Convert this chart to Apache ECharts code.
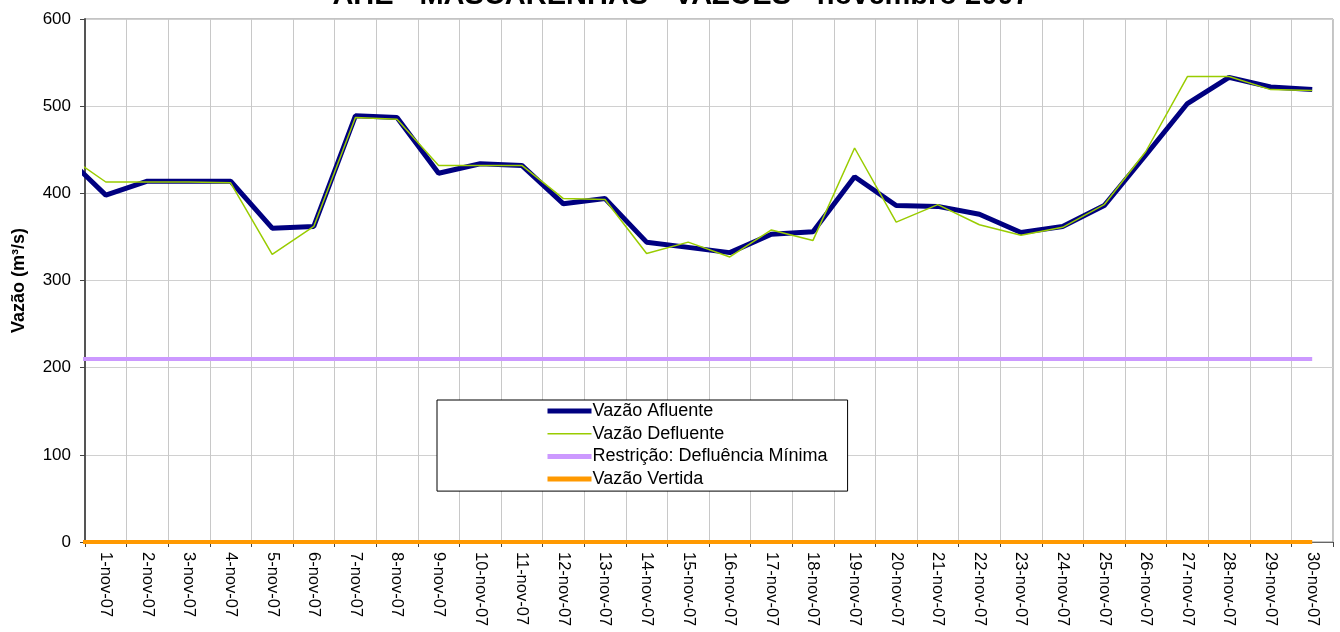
<!DOCTYPE html>
<html>
<head>
<meta charset="utf-8">
<title>AHE - MASCARENHAS - VAZÕES</title>
<script src="https://cdn.jsdelivr.net/npm/echarts@6/dist/echarts.min.js"></script>
<style>
  html, body { margin: 0; padding: 0; background: #fff; }
  #chart { width: 1340px; height: 632px; }
</style>
</head>
<body>
<div id="chart"></div>
<script>
// first entry (31-out) sits left of the axis and is only seen as the clipped start segment
var dias = ["31-out-07",
  "1-nov-07","2-nov-07","3-nov-07","4-nov-07","5-nov-07","6-nov-07","7-nov-07","8-nov-07","9-nov-07","10-nov-07",
  "11-nov-07","12-nov-07","13-nov-07","14-nov-07","15-nov-07","16-nov-07","17-nov-07","18-nov-07","19-nov-07","20-nov-07",
  "21-nov-07","22-nov-07","23-nov-07","24-nov-07","25-nov-07","26-nov-07","27-nov-07","28-nov-07","29-nov-07","30-nov-07"];

var vazaoAfluente = [444,
  398,414,414,414,360,362,489,487,423,434,
  432,388,394,344,338,332,353,356,419,386,
  385,376,355,362,386,444,503,533,522,519];

var vazaoDefluente = [446,
  413,413,413,412,330,362,487,485,432,432,
  432,394,393,331,344,327,358,346,452,367,
  387,364,352,361,387,448,534,534,519,518];

var defluenciaMinima = [210,
  210,210,210,210,210,210,210,210,210,210,
  210,210,210,210,210,210,210,210,210,210,
  210,210,210,210,210,210,210,210,210,210];

var vazaoVertida = [0,
  0,0,0,0,0,0,0,0,0,0,
  0,0,0,0,0,0,0,0,0,0,
  0,0,0,0,0,0,0,0,0,0];

var FONTE = 'Arial, "Liberation Sans", sans-serif';

var chart = echarts.init(document.getElementById('chart'));
var option = {
    backgroundColor: '#fff',
    animation: false,
    title: {
        text: 'AHE - MASCARENHAS - VAZÕES - novembro 2007',
        left: 676,
        top: -24,
        textAlign: 'center',
        textStyle: { fontFamily: FONTE, fontSize: 29, fontWeight: 'bold', color: '#000' }
    },
    legend: {
        orient: 'vertical',
        left: 437,
        top: 400,
        padding: [1, 20, 2, 108],
        itemGap: 2.7,
        itemWidth: 44,
        itemHeight: 14,
        backgroundColor: '#fff',
        borderColor: '#000',
        borderWidth: 1,
        borderRadius: 0,
        itemStyle: { opacity: 0 },
        textStyle: { fontFamily: FONTE, fontSize: 18, lineHeight: 20, color: '#000', padding: [0, 0, 0, -4] },
        data: [
            { name: 'Vazão Afluente', lineStyle: { width: 5 } },
            { name: 'Vazão Defluente', lineStyle: { width: 1.5 } },
            { name: 'Restrição: Defluência Mínima', lineStyle: { width: 5 } },
            { name: 'Vazão Vertida', lineStyle: { width: 5 } }
        ]
    },
    grid: {
        left: 85,
        right: 7,
        top: 19,
        bottom: 90,
        show: true,
        borderColor: '#888',
        borderWidth: 1
    },
    xAxis: {
        type: 'category',
        data: dias,
        min: 1,
        boundaryGap: true,
        axisLine: { lineStyle: { color: '#666', width: 1 } },
        axisTick: { show: true, length: 5, lineStyle: { color: '#444' } },
        axisLabel: {
            interval: 0,
            rotate: -90,
            margin: 10,
            fontFamily: FONTE,
            fontSize: 16.5,
            color: '#000'
        },
        splitLine: { show: true, lineStyle: { color: '#c8c8c8', width: 1 } }
    },
    yAxis: {
        type: 'value',
        min: 0,
        max: 600,
        interval: 100,
        name: 'Vazão (m³/s)',
        nameLocation: 'middle',
        nameGap: 57,
        nameTextStyle: { fontFamily: FONTE, fontSize: 18, fontWeight: 'bold', color: '#000' },
        axisLine: { show: true, lineStyle: { color: '#555', width: 2 } },
        axisTick: { show: true, length: 5, lineStyle: { color: '#444' } },
        axisLabel: { fontFamily: FONTE, fontSize: 17, color: '#000', margin: 14 },
        splitLine: { show: true, lineStyle: { color: '#d0d0d0', width: 1 } }
    },
    series: [
        {
            name: 'Vazão Afluente',
            type: 'line',
            data: vazaoAfluente,
            symbol: 'none',
            z: 3,
            lineStyle: { color: '#000080', width: 5 },
            itemStyle: { color: '#000080' }
        },
        {
            name: 'Vazão Defluente',
            type: 'line',
            data: vazaoDefluente,
            symbol: 'none',
            z: 4,
            lineStyle: { color: '#99cc00', width: 1.5 },
            itemStyle: { color: '#99cc00' }
        },
        {
            name: 'Restrição: Defluência Mínima',
            type: 'line',
            data: defluenciaMinima,
            symbol: 'none',
            z: 2,
            lineStyle: { color: '#cc99ff', width: 4 },
            itemStyle: { color: '#cc99ff' }
        },
        {
            name: 'Vazão Vertida',
            type: 'line',
            data: vazaoVertida,
            symbol: 'none',
            z: 2,
            lineStyle: { color: '#ff9900', width: 4 },
            itemStyle: { color: '#ff9900' }
        }
    ]
};
chart.setOption(option);
</script>
</body>
</html>
